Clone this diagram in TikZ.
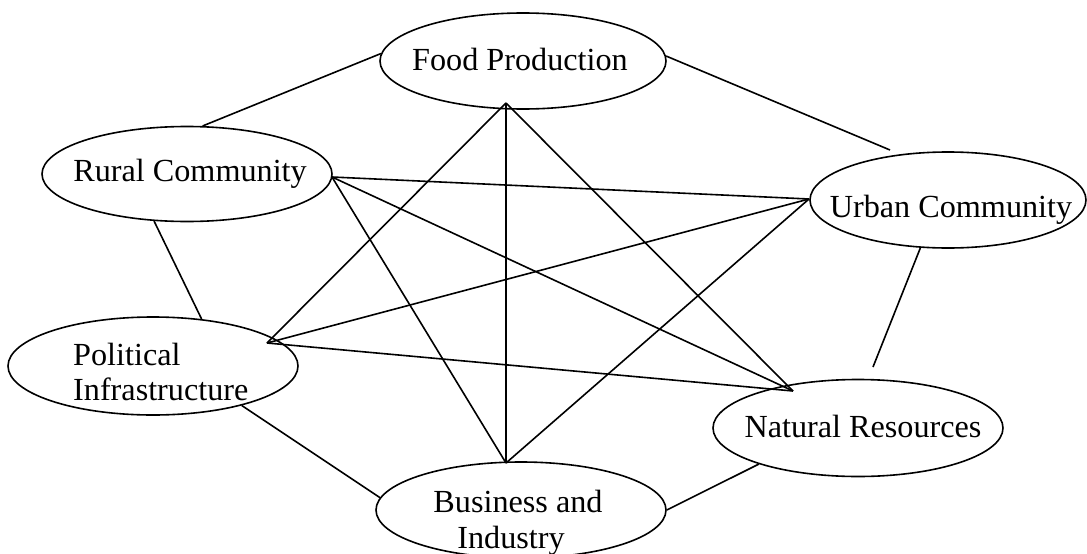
\documentclass[tikz,border=0pt]{standalone}
\usepackage{fontspec}
\setmainfont{Liberation Serif}
\usetikzlibrary{shapes.geometric}
\begin{document}
\begin{tikzpicture}[x=1pt,y=-1pt,
  every node/.style={font=\fontsize{32.2}{37}\selectfont},
  oval/.style={draw=black,line width=1.6pt,ellipse,inner sep=0pt,minimum height=96pt},
  lbl/.style={inner sep=0pt,anchor=base},
  lblw/.style={inner sep=0pt,anchor=base west},
  link/.style={draw=black,line width=1.6pt}]
\useasboundingbox (0,0) rectangle (1087,554);
% ellipses
\node[oval,minimum width=286pt] (food) at (523,61) {};
\node[oval,minimum width=290pt,minimum height=95pt] (rural) at (187,174) {};
\node[oval,minimum width=276pt] (urban) at (948,200) {};
\node[oval,minimum width=290pt,minimum height=98pt] (pol) at (153,366) {};
\node[oval,minimum width=290pt,minimum height=97pt] (nat) at (858,428) {};
\node[oval,minimum width=290pt] (bus) at (521,510) {};
% texts
\node[lbl] (tfood) at (520,70) {Food Production};
\node[lbl] (trural) at (190,181) {Rural Community};
\node[lbl] (turban) at (951,217) {Urban Community};
\node[lblw] (tpol1) at (73,365) {Political};
\node[lblw] (tpol2) at (73,400) {Infrastructure};
\node[lbl] (tnat) at (863,437) {Natural Resources};
\node[lbl] (tbus1) at (518,512) {Business and};
\node[lbl] (tbus2) at (511,548) {Industry};
% hub coordinates
\coordinate (fpH) at (506,103);
\coordinate (rcH) at (332,177);
\coordinate (ucH) at (809,199);
\coordinate (piH) at (267,343);
\coordinate (nrH) at (793,391);
\coordinate (biH) at (506,463);
\coordinate (nrT) at (873,367);
\coordinate (ucT) at (890,150);
% outer ring
\draw[link] (rural.72) -- (food.177.6);
\draw[link] (food.2.8) -- (ucT);
\draw[link] (rural.235) -- (pol.44);
\draw[link] (urban.240.5) -- (nrT);
\draw[link] (pol.-24) -- (bus.175);
\draw[link] (bus.0) -- (nat.200.6);
% inner links
\draw[link] (fpH) -- (piH);
\draw[link] (fpH) -- (biH);
\draw[link] (fpH) -- (nrH);
\draw[link] (rcH) -- (ucH);
\draw[link] (rcH) -- (nrH);
\draw[link] (rcH) -- (biH);
\draw[link] (ucH) -- (piH);
\draw[link] (ucH) -- (biH);
\draw[link] (piH) -- (nrH);
\end{tikzpicture}
\end{document}
